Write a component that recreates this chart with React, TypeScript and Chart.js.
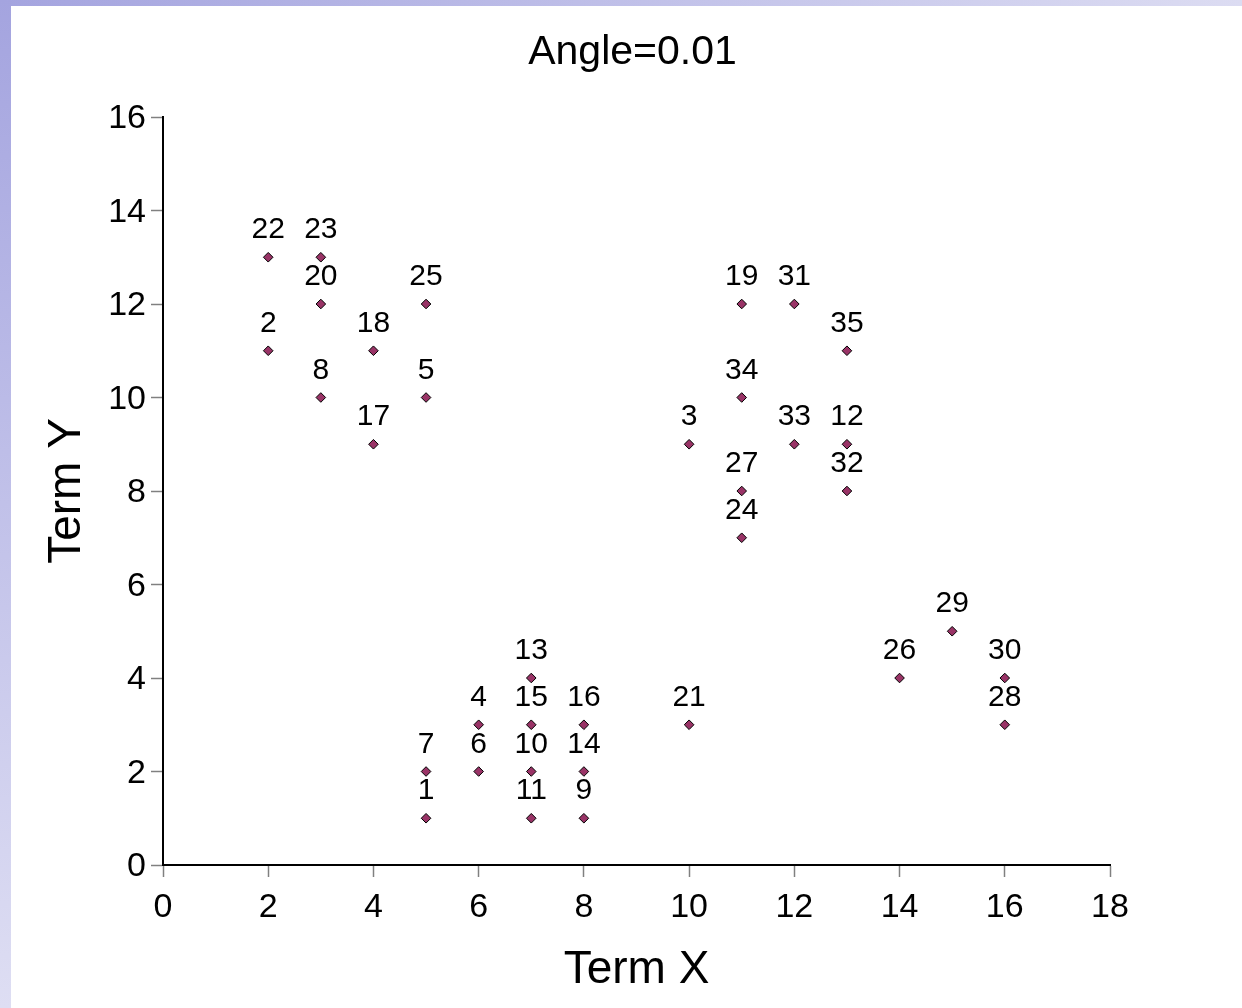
import React, { useEffect, useRef } from "react";
import { Chart, registerables } from "chart.js";

Chart.register(...registerables);

const chartTitle = "Angle=0.01";
const xAxisTitle = "Term X";
const yAxisTitle = "Term Y";

const pointIds = [
  "1", "2", "3", "4", "5", "6", "7", "8", "9", "10",
  "11", "12", "13", "14", "15", "16", "17", "18", "19", "20",
  "21", "22", "23", "24", "25", "26", "27", "28", "29", "30",
  "31", "32", "33", "34", "35",
];
const xValues = [5, 2, 10, 6, 5, 6, 5, 3, 8, 7, 7, 13, 7, 8, 7, 8, 4, 4, 11, 3, 10, 2, 3, 11, 5, 14, 11, 16, 15, 16, 12, 13, 12, 11, 13];
const yValues = [1, 11, 9, 3, 10, 2, 2, 10, 1, 2, 1, 9, 4, 2, 3, 3, 9, 11, 12, 12, 3, 13, 13, 7, 12, 4, 8, 3, 5, 4, 12, 8, 9, 10, 11];

const xTickMin = 0;
const xTickMax = 18;
const xTickStep = 2;
const yTickMin = 0;
const yTickMax = 16;
const yTickStep = 2;

const FONT = "'Liberation Sans', Arial, sans-serif";

const W = 1242;
const H = 1008;

const decorPlugin = {
  id: "decor",
  beforeDraw(chart: any) {
    const ctx = chart.ctx as CanvasRenderingContext2D;
    ctx.save();
    ctx.fillStyle = "#ffffff";
    ctx.fillRect(0, 0, W, H);
    const gTop = ctx.createLinearGradient(0, 0, W, 0);
    gTop.addColorStop(0, "#a4a4df");
    gTop.addColorStop(1, "#dcdcf2");
    ctx.fillStyle = gTop;
    ctx.fillRect(0, 0, W, 6);
    const gLeft = ctx.createLinearGradient(0, 0, 0, H);
    gLeft.addColorStop(0, "#a4a4df");
    gLeft.addColorStop(1, "#dedef3");
    ctx.fillStyle = gLeft;
    ctx.fillRect(0, 0, 11, H);
    ctx.restore();
  },
  afterDraw(chart: any) {
    const ctx = chart.ctx as CanvasRenderingContext2D;
    const area = chart.chartArea;
    ctx.save();
    ctx.fillStyle = "#000000";
    // title
    ctx.font = `41px ${FONT}`;
    ctx.textAlign = "center";
    ctx.textBaseline = "alphabetic";
    ctx.fillText(chartTitle, (area.left + area.right) / 2 - 4, 64);
    // x axis title
    ctx.font = `46px ${FONT}`;
    ctx.fillText(xAxisTitle, (area.left + area.right) / 2, 983);
    // y axis title
    ctx.save();
    ctx.translate(80, (area.top + area.bottom) / 2);
    ctx.rotate(-Math.PI / 2);
    ctx.fillText(yAxisTitle, 0, 0);
    ctx.restore();
    // data labels
    ctx.font = `30px ${FONT}`;
    const meta = chart.getDatasetMeta(0);
    meta.data.forEach((pt: any, i: number) => {
      ctx.fillText(pointIds[i], pt.x, pt.y - 19);
    });
    ctx.restore();
  },
};

export default function App() {
  const ref = useRef<HTMLCanvasElement | null>(null);

  useEffect(() => {
    if (!ref.current) return;
    const data = xValues.map((x, i) => ({ x, y: yValues[i] }));
    const chart = new Chart(ref.current, {
      type: "scatter",
      data: {
        datasets: [
          {
            data,
            pointStyle: "rectRot",
            pointRadius: 4.8,
            pointHoverRadius: 4.8,
            backgroundColor: "#993366",
            borderColor: "#000000",
            borderWidth: 1,
          },
        ],
      },
      options: {
        responsive: false,
        animation: false,
        events: [],
        layout: { padding: { left: 0, top: 117, right: 132, bottom: 0 } },
        plugins: {
          legend: { display: false },
          title: { display: false },
          tooltip: { enabled: false },
        },
        scales: {
          x: {
            type: "linear",
            min: xTickMin,
            max: xTickMax,
            afterFit(scale: any) {
              scale.height = 143;
            },
            ticks: {
              stepSize: xTickStep,
              color: "#000000",
              font: { family: FONT, size: 34 },
              padding: 10,
              maxRotation: 0,
            },
            grid: {
              display: true,
              drawOnChartArea: false,
              drawTicks: true,
              tickLength: 12,
              tickColor: "#808080",
              tickWidth: 1.5,
            },
            border: { display: true, color: "#000000", width: 2 },
          },
          y: {
            type: "linear",
            min: yTickMin,
            max: yTickMax,
            afterFit(scale: any) {
              scale.width = 163;
            },
            ticks: {
              stepSize: yTickStep,
              color: "#000000",
              font: { family: FONT, size: 34 },
              padding: 5,
              labelOffset: 2,
            },
            grid: {
              display: true,
              drawOnChartArea: false,
              drawTicks: true,
              tickLength: 12,
              tickColor: "#808080",
              tickWidth: 1.5,
            },
            border: { display: true, color: "#000000", width: 2 },
          },
        },
      },
      plugins: [decorPlugin],
    });
    return () => chart.destroy();
  }, []);

  return (
    <div style={{ position: "absolute", left: 0, top: 0, width: W, height: H }}>
      <canvas ref={ref} width={W} height={H} style={{ display: "block" }} />
    </div>
  );
}
